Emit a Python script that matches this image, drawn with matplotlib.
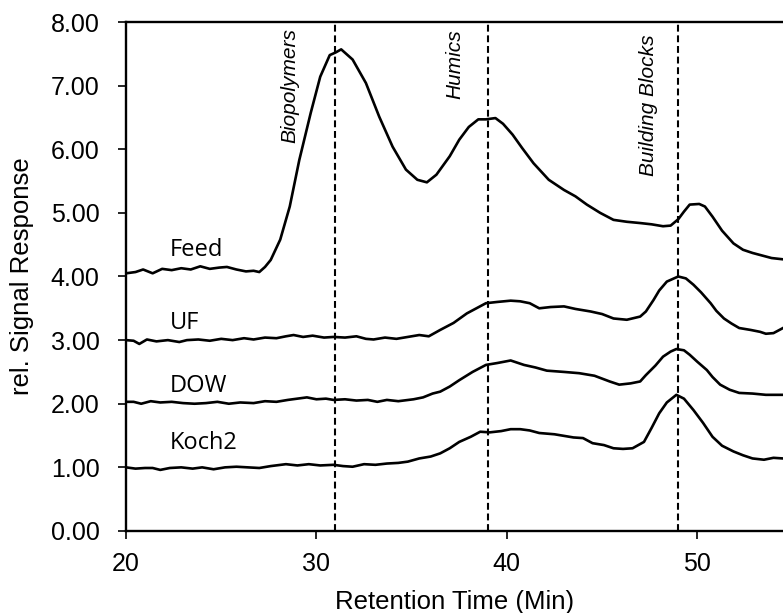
import matplotlib.pyplot as plt

# Retention time (min) and relative signal response for each sample
feed_x = [20.0, 20.5, 20.9, 21.4, 21.9, 22.4, 22.9, 23.4, 23.9, 24.4, 24.9, 25.3, 25.8, 26.3, 26.7, 27.0,
          27.3, 27.6, 28.1, 28.6, 29.1, 29.7, 30.2, 30.7, 31.0, 31.3, 31.9, 32.6, 33.3, 34.0, 34.7,
          35.3, 35.8, 36.3, 37.0, 37.5, 38.0, 38.5, 38.9, 39.4, 39.8, 40.3, 40.8, 41.4, 42.2, 43.0,
          43.6, 44.2, 44.9, 45.6, 46.3, 47.0, 47.6, 48.2, 48.6, 49.0, 49.3, 49.6, 50.1, 50.4, 50.8,
          51.3, 51.9, 52.4, 52.9, 53.4, 53.9, 54.5]
feed_y = [4.05, 4.07, 4.11, 4.05, 4.12, 4.10, 4.13, 4.11, 4.16, 4.12, 4.14, 4.15, 4.11, 4.08, 4.09, 4.07,
          4.15, 4.26, 4.58, 5.10, 5.83, 6.57, 7.14, 7.48, 7.52, 7.57, 7.41, 7.04, 6.51, 6.04, 5.68,
          5.52, 5.48, 5.60, 5.89, 6.15, 6.35, 6.47, 6.47, 6.49, 6.40, 6.23, 6.02, 5.78, 5.52, 5.36,
          5.26, 5.13, 5.00, 4.89, 4.86, 4.84, 4.82, 4.79, 4.80, 4.90, 5.02, 5.13, 5.14, 5.10, 4.94,
          4.72, 4.52, 4.42, 4.37, 4.33, 4.29, 4.27]

uf_x = [20.0, 20.4, 20.7, 21.1, 21.6, 22.2, 22.8, 23.2, 23.8, 24.4, 25.0, 25.6, 26.2, 26.7, 27.3, 27.9,
        28.4, 28.8, 29.3, 29.8, 30.4, 30.9, 31.5, 32.1, 32.6, 33.0, 33.6, 34.2, 34.8, 35.4, 35.9,
        36.5, 37.2, 37.9, 38.4, 38.9, 39.5, 40.2, 40.7, 41.2, 41.7, 42.3, 43.0, 43.6, 44.4, 45.0,
        45.6, 46.3, 47.0, 47.3, 47.7, 48.0, 48.4, 49.0, 49.4, 49.8, 50.2, 50.7, 51.0, 51.4, 51.8,
        52.2, 52.8, 53.3, 53.6, 54.0, 54.5]
uf_y = [3.00, 2.99, 2.94, 3.01, 2.98, 3.00, 2.97, 3.00, 3.01, 2.99, 3.02, 3.00, 3.03, 3.01, 3.04, 3.03,
        3.06, 3.08, 3.05, 3.07, 3.04, 3.05, 3.04, 3.06, 3.02, 3.01, 3.04, 3.02, 3.05, 3.08, 3.06,
        3.16, 3.27, 3.42, 3.50, 3.58, 3.60, 3.62, 3.61, 3.58, 3.50, 3.52, 3.53, 3.49, 3.45, 3.41,
        3.34, 3.32, 3.37, 3.45, 3.63, 3.78, 3.92, 4.00, 3.97, 3.87, 3.75, 3.58, 3.46, 3.34, 3.26,
        3.19, 3.16, 3.13, 3.10, 3.11, 3.19]

dow_x = [20.0, 20.4, 20.8, 21.3, 21.8, 22.4, 23.0, 23.6, 24.2, 24.8, 25.4, 26.0, 26.7, 27.3, 27.9,
         28.5, 29.0, 29.5, 30.0, 30.5, 30.9, 31.5, 32.1, 32.7, 33.2, 33.7, 34.3, 35.1, 35.6, 36.1,
         36.5, 37.0, 37.5, 38.2, 38.9, 39.5, 40.2, 40.9, 41.5, 42.1, 43.0, 43.8, 44.6, 45.4, 45.9,
         46.5, 47.0, 47.3, 47.8, 48.2, 48.6, 48.9, 49.3, 49.6, 50.0, 50.5, 50.8, 51.2, 51.7, 52.2,
         52.9, 53.6, 54.5]
dow_y = [2.03, 2.03, 2.00, 2.04, 2.02, 2.03, 2.01, 2.00, 2.01, 2.03, 2.00, 2.02, 2.01, 2.04, 2.03,
         2.06, 2.08, 2.10, 2.07, 2.08, 2.06, 2.07, 2.05, 2.06, 2.03, 2.06, 2.04, 2.07, 2.10, 2.16,
         2.19, 2.27, 2.37, 2.50, 2.61, 2.64, 2.68, 2.61, 2.57, 2.52, 2.50, 2.48, 2.44, 2.35, 2.30,
         2.32, 2.35, 2.45, 2.60, 2.74, 2.82, 2.86, 2.84, 2.77, 2.66, 2.53, 2.42, 2.30, 2.22, 2.17,
         2.16, 2.14, 2.14]

koch_x = [20.0, 20.5, 21.0, 21.4, 21.8, 22.3, 22.9, 23.5, 24.0, 24.6, 25.2, 25.8, 26.4, 27.0, 27.6,
          28.4, 29.0, 29.6, 30.2, 30.9, 31.4, 31.9, 32.5, 33.1, 33.7, 34.3, 34.8, 35.4, 36.0, 36.5,
          37.0, 37.5, 38.1, 38.6, 39.1, 39.7, 40.2, 40.7, 41.2, 41.7, 42.5, 43.5, 44.0, 44.5, 45.1,
          45.6, 46.1, 46.6, 47.2, 47.6, 48.0, 48.4, 48.9, 49.3, 49.8, 50.3, 50.8, 51.3, 51.9, 52.4,
          52.9, 53.5, 54.0, 54.5]
koch_y = [1.00, 0.98, 0.99, 0.99, 0.96, 0.99, 1.00, 0.98, 1.00, 0.97, 1.00, 1.01, 1.00, 0.99, 1.02,
          1.05, 1.03, 1.05, 1.03, 1.04, 1.02, 1.01, 1.05, 1.04, 1.06, 1.07, 1.09, 1.14, 1.17, 1.22,
          1.30, 1.40, 1.48, 1.56, 1.55, 1.57, 1.60, 1.60, 1.58, 1.54, 1.52, 1.47, 1.46, 1.38, 1.35,
          1.30, 1.29, 1.30, 1.40, 1.62, 1.85, 2.02, 2.14, 2.08, 1.90, 1.70, 1.48, 1.34, 1.25, 1.19,
          1.14, 1.12, 1.15, 1.14]

curves = [(feed_x, feed_y), (uf_x, uf_y), (dow_x, dow_y), (koch_x, koch_y)]

sample_names = ['Feed', 'UF', 'DOW', 'Koch2']
name_y = [4.32, 3.18, 2.19, 1.29]

# Fraction markers
fraction_names = ['Biopolymers', 'Humics', 'Building Blocks']
fraction_x = [31, 39, 49]
fraction_label_x = [28.6, 37.27, 47.45]
fraction_label_top = [7.91, 7.88, 7.80]

fig = plt.figure(figsize=(7.83, 6.13), dpi=100)
ax = fig.add_axes([0.1609, 0.1338, 0.8391, 0.8303])

for xs, ys in curves:
    ax.plot(xs, ys, color='black', linewidth=1.9, solid_joinstyle='round')

for xv in fraction_x:
    ax.axvline(xv, color='black', linewidth=1.5, dashes=(3.3, 1.8))

for txt, yv in zip(sample_names, name_y):
    ax.text(22.3, yv, txt, fontsize=17, family='Open Sans', ha='left', va='baseline')

for txt, xv, yv in zip(fraction_names, fraction_label_x, fraction_label_top):
    ax.text(xv, yv, txt, fontsize=15, style='italic', family='Liberation Sans',
            rotation=90, ha='center', va='top')

ax.set_xlim(20, 54.5)
ax.set_ylim(0, 8)
ax.set_xticks([20, 30, 40, 50])
ax.set_yticks(range(0, 9))
ax.set_yticklabels([f'{v:.2f}' for v in range(0, 9)])

for side in ['left', 'bottom', 'top']:
    ax.spines[side].set_linewidth(1.7)
ax.spines['right'].set_visible(False)
ax.tick_params(direction='out', length=6, width=1.2, labelsize=18)
ax.tick_params(axis='x', pad=9)
ax.tick_params(axis='y', pad=13)
for lbl in ax.get_xticklabels() + ax.get_yticklabels():
    lbl.set_family('Liberation Sans')

ax.set_xlabel('Retention Time (Min)', fontsize=18.5, family='Liberation Sans', labelpad=10)
ax.set_ylabel('rel. Signal Response', fontsize=18.5, family='Liberation Sans', labelpad=12)

fig.savefig('out.png', dpi=100)
